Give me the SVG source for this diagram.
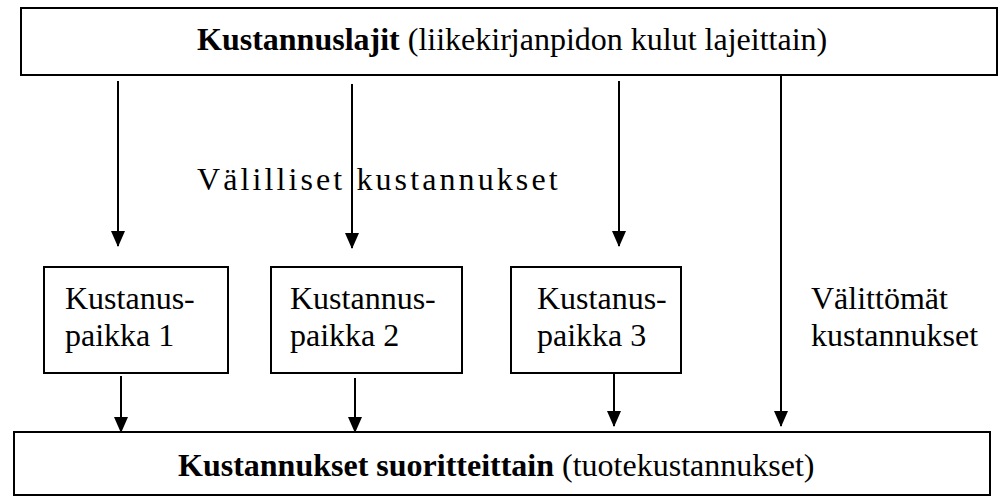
<svg xmlns="http://www.w3.org/2000/svg" width="1002" height="501" viewBox="0 0 1002 501">
<style>
.box{fill:#fff;stroke:#000;stroke-width:2}
.t{font-family:"Liberation Serif","Times New Roman",serif;font-size:32px;fill:#000}
.b{font-weight:bold}
.c{stroke:#000;stroke-width:2;fill:none;marker-end:url(#ah)}
</style>
<defs>
<marker id="ah" markerUnits="userSpaceOnUse" markerWidth="16" markerHeight="14" refX="15" refY="7" orient="auto" viewBox="0 0 16 14">
<path d="M0,0 L16,7 L0,14 Z" fill="#000"/>
</marker>
</defs>
<rect width="1002" height="501" fill="#fff"/>
<g id="connectors">
<line class="c" x1="118" y1="81" x2="118" y2="246"/>
<line class="c" x1="352" y1="84" x2="352" y2="248"/>
<line class="c" x1="619" y1="81" x2="619" y2="246"/>
<line class="c" x1="781" y1="75" x2="781" y2="426"/>
<line class="c" x1="121" y1="376" x2="121" y2="432"/>
<line class="c" x1="355" y1="378" x2="355" y2="432"/>
<line class="c" x1="614" y1="373" x2="614" y2="426"/>
</g>
<g id="kustannuslajit">
<rect class="box" x="21" y="8" width="976" height="67"/>
<text class="t" x="197" y="50"><tspan class="b">Kustannuslajit</tspan> (liikekirjanpidon kulut lajeittain)</text>
</g>
<g id="valilliset">
<text class="t" x="197" y="190" letter-spacing="3.1">Välilliset kustannukset</text>
</g>
<g id="kp1">
<rect class="box" x="44" y="267" width="184" height="106"/>
<text class="t" x="65" y="309">Kustanus-</text>
<text class="t" x="65" y="346">paikka 1</text>
</g>
<g id="kp2">
<rect class="box" x="271" y="267" width="191" height="106"/>
<text class="t" x="290" y="309">Kustannus-</text>
<text class="t" x="290" y="346">paikka 2</text>
</g>
<g id="kp3">
<rect class="box" x="511" y="267" width="170" height="106"/>
<text class="t" x="537" y="309">Kustanus-</text>
<text class="t" x="537" y="346">paikka 3</text>
</g>
<g id="valittomat">
<text class="t" x="811" y="309">Välittömät</text>
<text class="t" x="811" y="346">kustannukset</text>
</g>
<g id="suoritteittain">
<rect class="box" x="14" y="432" width="976" height="63"/>
<text class="t" x="178" y="476"><tspan class="b">Kustannukset suoritteittain</tspan> (tuotekustannukset)</text>
</g>
</svg>
